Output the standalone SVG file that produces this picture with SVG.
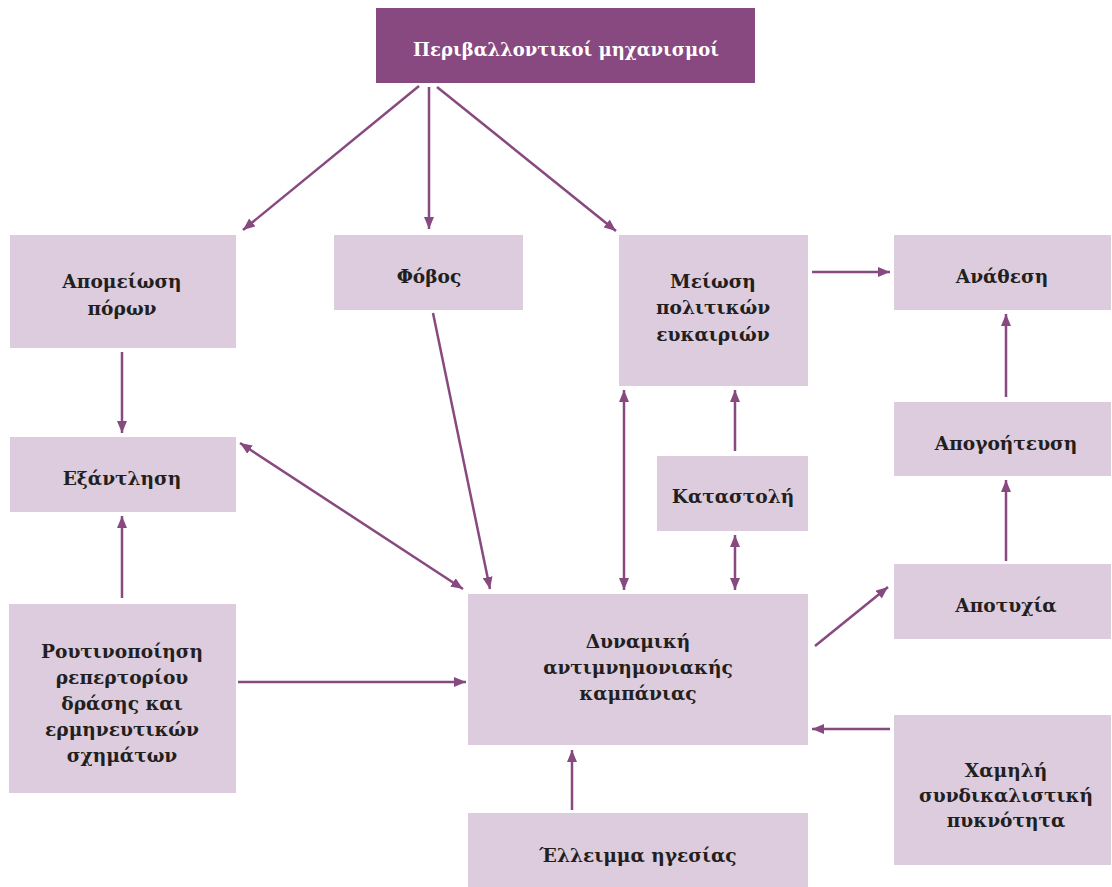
<svg xmlns="http://www.w3.org/2000/svg" width="1112" height="887" viewBox="0 0 1112 887">
<style>
.box{fill:#DCCCDE}
.top{fill:#87497F}
.t{font-family:"DejaVu Serif","Liberation Serif",serif;font-weight:bold;font-size:18.6px;fill:#231F20;text-anchor:middle}
.tw{font-family:"DejaVu Serif","Liberation Serif",serif;font-weight:bold;font-size:18px;fill:#FFFFFF;text-anchor:middle}
.c{stroke:#87497F;stroke-width:2.5;fill:none}
</style>
<defs>
<marker id="ah" viewBox="0 0 12 10" refX="12" refY="5" markerWidth="12" markerHeight="10" markerUnits="userSpaceOnUse" orient="auto-start-reverse">
<path d="M0,0 L12,5 L0,10 Z" fill="#87497F"/>
</marker>
</defs>
<rect width="1112" height="887" fill="#FFFFFF"/>
<g id="n-top"><rect class="top" x="376" y="8" width="379" height="75"/><text class="tw" x="566" y="56">Περιβαλλοντικοί μηχανισμοί</text></g>
<g id="n-apomeiosi"><rect class="box" x="10" y="235" width="226" height="113"/><text class="t" x="122" y="288">Απομείωση</text><text class="t" x="122" y="315">πόρων</text></g>
<g id="n-fovos"><rect class="box" x="334" y="235" width="189" height="75"/><text class="t" x="429" y="283">Φόβος</text></g>
<g id="n-meiosi"><rect class="box" x="619" y="235" width="189" height="151"/><text class="t" x="713" y="288">Μείωση</text><text class="t" x="713" y="314">πολιτικών</text><text class="t" x="713" y="341">ευκαιριών</text></g>
<g id="n-anathesi"><rect class="box" x="894" y="235" width="217" height="75"/><text class="t" x="1002" y="283">Ανάθεση</text></g>
<g id="n-exantlisi"><rect class="box" x="10" y="437" width="226" height="75"/><text class="t" x="122" y="485">Εξάντληση</text></g>
<g id="n-katastoli"><rect class="box" x="657" y="456" width="151" height="75"/><text class="t" x="733" y="503">Καταστολή</text></g>
<g id="n-apogoiteusi"><rect class="box" x="894" y="402" width="217" height="74"/><text class="t" x="1006" y="450">Απογοήτευση</text></g>
<g id="n-apotyxia"><rect class="box" x="894" y="564" width="217" height="75"/><text class="t" x="1006" y="612">Αποτυχία</text></g>
<g id="n-routino"><rect class="box" x="9" y="604" width="227" height="189"/><text class="t" x="122" y="658">Ρουτινοποίηση</text><text class="t" x="122" y="684">ρεπερτορίου</text><text class="t" x="122" y="710">δράσης και</text><text class="t" x="122" y="736">ερμηνευτικών</text><text class="t" x="122" y="762">σχημάτων</text></g>
<g id="n-dynamiki"><rect class="box" x="468" y="594" width="340" height="151"/><text class="t" x="638" y="648">Δυναμική</text><text class="t" x="638" y="674">αντιμνημονιακής</text><text class="t" x="638" y="700">καμπάνιας</text></g>
<g id="n-xamili"><rect class="box" x="894" y="715" width="217" height="150"/><text class="t" x="1006" y="777">Χαμηλή</text><text class="t" x="1006" y="802">συνδικαλιστική</text><text class="t" x="1006" y="827">πυκνότητα</text></g>
<g id="n-elleimma"><rect class="box" x="468" y="813" width="340" height="74"/><text class="t" x="638" y="862">Έλλειμμα ηγεσίας</text></g>
<g id="connectors">
<line class="c" x1="419" y1="86" x2="243" y2="230" marker-end="url(#ah)"/>
<line class="c" x1="429" y1="87" x2="429" y2="229" marker-end="url(#ah)"/>
<line class="c" x1="437" y1="87" x2="616" y2="231" marker-end="url(#ah)"/>
<line class="c" x1="812" y1="272" x2="890" y2="272" marker-end="url(#ah)"/>
<line class="c" x1="122" y1="352" x2="122" y2="433" marker-end="url(#ah)"/>
<line class="c" x1="122" y1="598" x2="122" y2="516" marker-end="url(#ah)"/>
<line class="c" x1="433" y1="313" x2="490" y2="589" marker-end="url(#ah)"/>
<line class="c" x1="240" y1="443" x2="463" y2="589" marker-start="url(#ah)" marker-end="url(#ah)"/>
<line class="c" x1="624" y1="390" x2="624" y2="590" marker-start="url(#ah)" marker-end="url(#ah)"/>
<line class="c" x1="735" y1="451" x2="735" y2="390" marker-end="url(#ah)"/>
<line class="c" x1="735" y1="535" x2="735" y2="590" marker-start="url(#ah)" marker-end="url(#ah)"/>
<line class="c" x1="815" y1="646" x2="888" y2="587" marker-end="url(#ah)"/>
<line class="c" x1="1006" y1="561" x2="1006" y2="480" marker-end="url(#ah)"/>
<line class="c" x1="1006" y1="397" x2="1006" y2="314" marker-end="url(#ah)"/>
<line class="c" x1="238" y1="682" x2="466" y2="682" marker-end="url(#ah)"/>
<line class="c" x1="890" y1="729" x2="812" y2="729" marker-end="url(#ah)"/>
<line class="c" x1="572" y1="810" x2="572" y2="750" marker-end="url(#ah)"/>
</g>
</svg>
